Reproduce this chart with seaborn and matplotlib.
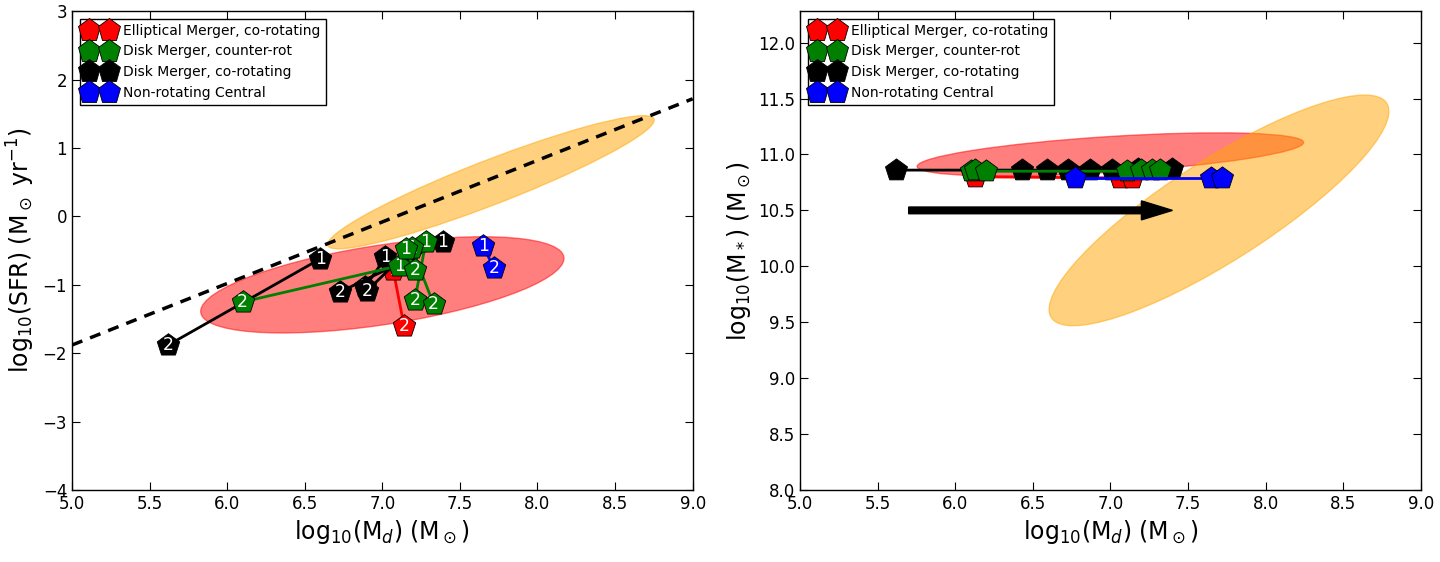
import seaborn as sns
import matplotlib.pyplot as plt
import numpy as np
from matplotlib.patches import Ellipse
from matplotlib.lines import Line2D

# ---- left panel: SFR vs dust mass, each run has a "1" and a "2" snapshot ----
ell_md_1 = [7.07]
ell_sfr_1 = [-0.78]
ell_md_2 = [7.14]
ell_sfr_2 = [-1.60]

cnt_md_1 = [7.11, 7.28, 7.19, 7.15]
cnt_sfr_1 = [-0.72, -0.38, -0.46, -0.48]
cnt_md_2 = [6.10, 7.21, 7.33, 7.21]
cnt_sfr_2 = [-1.25, -1.22, -1.28, -0.79]

co_md_1 = [6.60, 7.02, 7.39, 7.17]
co_sfr_1 = [-0.62, -0.60, -0.38, -0.50]
co_md_2 = [5.62, 6.89, 6.73, 6.90]
co_sfr_2 = [-1.88, -1.03, -1.10, -1.09]

cen_md_1 = [7.65]
cen_sfr_1 = [-0.43]
cen_md_2 = [7.72]
cen_sfr_2 = [-0.76]

# dashed relation
rel_slope = 0.90
rel_icpt = -6.38

# ---- right panel: stellar mass vs dust mass ----
r_ell_md = [6.13, 7.06, 7.14]
r_ell_ms = [10.80, 10.79, 10.79]
r_cnt_md = [6.10, 6.13, 6.20, 7.11, 7.20, 7.27, 7.32]
r_cnt_ms = [10.85, 10.86, 10.85, 10.85, 10.86, 10.86, 10.86]
r_co_md = [5.62, 6.43, 6.59, 6.73, 6.87, 7.01, 7.18, 7.40]
r_co_ms = [10.86, 10.86, 10.86, 10.86, 10.86, 10.86, 10.87, 10.87]
r_cen_md = [6.77, 7.65, 7.72]
r_cen_ms = [10.79, 10.79, 10.79]

labels = ["Elliptical Merger, co-rotating", "Disk Merger, counter-rot",
          "Disk Merger, co-rotating", "Non-rotating Central"]
colors = ["red", "green", "black", "blue"]

sns.set_style("ticks")
plt.rcParams["font.family"] = ["DejaVu Sans"]
plt.rcParams["text.color"] = "black"
plt.rcParams["axes.labelcolor"] = "black"
plt.rcParams["xtick.color"] = "black"
plt.rcParams["ytick.color"] = "black"

fig = plt.figure(figsize=(14.4, 5.62), dpi=100)
ax1 = fig.add_axes([0.05, 0.128, 0.431, 0.852])
ax2 = fig.add_axes([0.5556, 0.128, 0.431, 0.852])

# ellipses
ax1.add_patch(Ellipse((7.0, -1.0), 2.5, 1.1, angle=23, color="red", alpha=0.5, zorder=1))
ax1.add_patch(Ellipse((7.70, 0.50), 2.82, 0.52, angle=42.6, color="orange", alpha=0.5, zorder=1))
ax2.add_patch(Ellipse((7.0, 11.0), 2.5, 0.32, angle=5, color="red", alpha=0.5, zorder=1))
ax2.add_patch(Ellipse((7.70, 10.5), 2.9, 0.8, angle=43, color="orange", alpha=0.5, zorder=1))

xs = np.array([5.0, 9.0])
sns.lineplot(x=xs, y=rel_slope * xs + rel_icpt, ax=ax1, color="k", lw=2.5,
             linestyle=(0, (3.2, 2.4)), zorder=2)

groups = [
    ("red", ell_md_1, ell_sfr_1, ell_md_2, ell_sfr_2),
    ("black", co_md_1, co_sfr_1, co_md_2, co_sfr_2),
    ("green", cnt_md_1, cnt_sfr_1, cnt_md_2, cnt_sfr_2),
    ("blue", cen_md_1, cen_sfr_1, cen_md_2, cen_sfr_2),
]
z = 3
for col, x1, y1, x2, y2 in groups:
    for a, b, c, d in zip(x1, y1, x2, y2):
        sns.lineplot(x=[a, c], y=[b, d], ax=ax1, color=col, lw=2, sort=False,
                     estimator=None, zorder=z)
        sns.scatterplot(x=[a, c], y=[b, d], ax=ax1, color=col, marker="p", s=290,
                        edgecolor="k", linewidth=0.6, zorder=z + 0.1)
        ax1.text(a, b, "1", color="white", fontsize=12.5, ha="center", va="center", zorder=z + 0.2)
        ax1.text(c, d, "2", color="white", fontsize=12.5, ha="center", va="center", zorder=z + 0.2)
        z += 1

rgroups = [
    ("red", r_ell_md, r_ell_ms),
    ("black", r_co_md, r_co_ms),
    ("green", r_cnt_md, r_cnt_ms),
    ("blue", r_cen_md, r_cen_ms),
]
z = 3
for col, xv, yv in rgroups:
    sns.lineplot(x=xv, y=yv, ax=ax2, color=col, lw=2, estimator=None, zorder=z)
    sns.scatterplot(x=xv, y=yv, ax=ax2, color=col, marker="p", s=280,
                    edgecolor="k", linewidth=0.6, zorder=z + 0.1)
    z += 1

ax2.arrow(5.70, 10.5, 1.70, 0, width=0.06, head_width=0.17, head_length=0.2,
          length_includes_head=True, color="k", zorder=10)

handles = [Line2D([], [], marker="p", linestyle="", color=c, markeredgecolor="k",
                  markeredgewidth=0.6, markersize=17) for c in colors]

for ax in (ax1, ax2):
    ax.set_xlim(5.0, 9.0)
    ax.set_xticks(np.arange(5.0, 9.01, 0.5))
    ax.tick_params(direction="in", top=True, right=True, length=6, labelsize=12)
    for s in ax.spines.values():
        s.set_color("k")
        s.set_linewidth(1)
    ax.set_xlabel(r"log$_{10}$(M$_d$) (M$_\odot$)", fontsize=17)
    leg = ax.legend(handles, labels, loc="upper left", numpoints=2, fontsize=10,
                    frameon=True, fancybox=False, framealpha=1, edgecolor="k",
                    labelspacing=0.48, handlelength=2.05, handletextpad=0.75,
                    borderpad=0.35, borderaxespad=0.55)
    leg.get_frame().set_linewidth(1)
    leg.set_zorder(20)

ax1.set_ylim(-4, 3)
ax1.set_yticks(range(-4, 4))
ax1.set_ylabel(r"log$_{10}$(SFR) (M$_\odot$ yr$^{-1}$)", fontsize=17)

ax2.set_ylim(8.0, 12.28)
ax2.set_yticks(np.arange(8.0, 12.01, 0.5))
ax2.set_ylabel(r"log$_{10}$(M$_*$) (M$_\odot$)", fontsize=17)

fig.savefig("out.png", dpi=100)
